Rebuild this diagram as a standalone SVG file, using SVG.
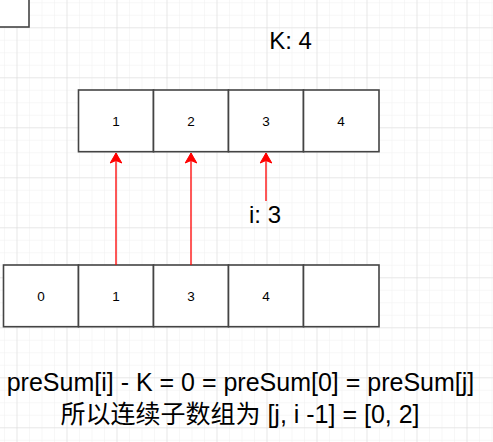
<svg xmlns="http://www.w3.org/2000/svg" width="493" height="442" viewBox="0 0 493 442">
  <defs>
    <pattern id="minor" x="4" y="2.3" width="12.5" height="12.5" patternUnits="userSpaceOnUse">
      <path d="M0 0 H12.5 M0 0 V12.5" fill="none" stroke="#efefef" stroke-width="1"/>
    </pattern>
    <pattern id="major" x="16.5" y="27.3" width="50" height="50" patternUnits="userSpaceOnUse">
      <path d="M0 0 H50 M0 0 V50" fill="none" stroke="#d9d9d9" stroke-width="1"/>
    </pattern>
    <marker id="arr" markerUnits="userSpaceOnUse" markerWidth="14" markerHeight="14" refX="12" refY="7" orient="auto" viewBox="0 0 14 14">
      <path d="M12 7 L2 1.2 L4.5 7 L2 12.8 Z" fill="#ff0000" stroke="#ff0000" stroke-width="1"/>
    </marker>
    <style>
      .cell { fill: #ffffff; stroke: #444444; stroke-width: 1.6; }
      .num { font-family: "Liberation Sans", Arial, sans-serif; font-size: 13.5px; fill: #000000; text-anchor: middle; dominant-baseline: central; }
      .lbl { font-family: "Liberation Sans", Arial, sans-serif; font-size: 24px; fill: #000000; text-anchor: middle; }
      .big { font-family: "Liberation Sans", Arial, "Noto Sans CJK SC", sans-serif; font-size: 25px; fill: #000000; text-anchor: middle; }
      .conn { stroke: #ff0000; stroke-width: 1.3; fill: none; }
    </style>
  </defs>
  <rect width="493" height="442" fill="#ffffff"/>
  <rect width="493" height="442" fill="url(#minor)"/>
  <rect width="493" height="442" fill="url(#major)"/>

  <g id="corner-box">
    <rect class="cell" x="-10" y="-10" width="39" height="37"/>
  </g>

  <g id="k-label">
    <text class="lbl" x="290.5" y="49">K: 4</text>
  </g>

  <g id="top-array">
    <g id="top-0"><rect class="cell" x="78.5" y="90" width="75" height="61.7"/><text class="num" x="116" y="121">1</text></g>
    <g id="top-1"><rect class="cell" x="153.5" y="90" width="75" height="61.7"/><text class="num" x="191" y="121">2</text></g>
    <g id="top-2"><rect class="cell" x="228.5" y="90" width="75" height="61.7"/><text class="num" x="266" y="121">3</text></g>
    <g id="top-3"><rect class="cell" x="303.5" y="90" width="75.5" height="61.7"/><text class="num" x="341" y="121">4</text></g>
  </g>

  <g id="i-label">
    <text class="lbl" x="265" y="223">i: 3</text>
  </g>

  <g id="bottom-array">
    <g id="bot-0"><rect class="cell" x="3.5" y="265" width="75" height="61.7"/><text class="num" x="41" y="296">0</text></g>
    <g id="bot-1"><rect class="cell" x="78.5" y="265" width="75" height="61.7"/><text class="num" x="116" y="296">1</text></g>
    <g id="bot-2"><rect class="cell" x="153.5" y="265" width="75" height="61.7"/><text class="num" x="191" y="296">3</text></g>
    <g id="bot-3"><rect class="cell" x="228.5" y="265" width="75" height="61.7"/><text class="num" x="266" y="296">4</text></g>
    <g id="bot-4"><rect class="cell" x="303.5" y="265" width="75.5" height="61.7"/></g>
  </g>

  <g id="connectors">
    <line class="conn" x1="116" y1="265" x2="116" y2="153" marker-end="url(#arr)"/>
    <line class="conn" x1="191" y1="265" x2="191" y2="153" marker-end="url(#arr)"/>
    <line class="conn" x1="266" y1="201" x2="266" y2="153" marker-end="url(#arr)"/>
  </g>

  <g id="formula">
    <text class="big" x="240.5" y="390.5">preSum[i] - K = 0 = preSum[0] = preSum[j]</text>
    <text class="big" x="240" y="422.5">所以连续子数组为 [j, i -1] = [0, 2]</text>
  </g>
</svg>
